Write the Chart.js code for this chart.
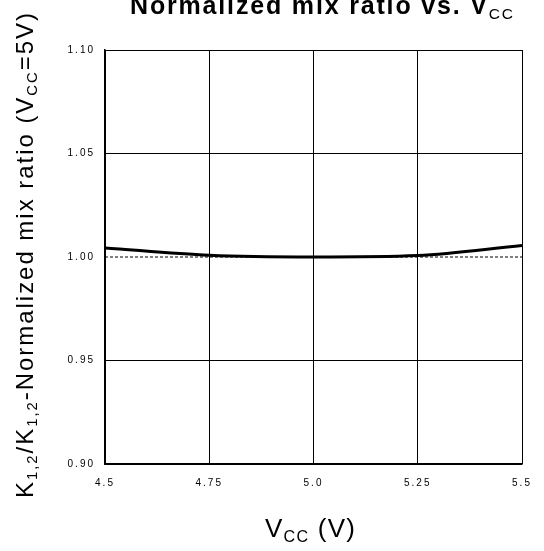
<!DOCTYPE html>
<html>
<head>
<meta charset="utf-8">
<script src="https://cdn.jsdelivr.net/npm/chart.js@4/dist/chart.umd.min.js"></script>
<style>
  html, body { margin: 0; padding: 0; background: #fff; }
  #wrap { width: 544px; height: 551px; }
</style>
</head>
<body>
<div id="wrap"><canvas id="mixChart" width="544" height="551"></canvas></div>
<script>
// supply voltage (V) and normalized mix ratio
var vcc = [4.5, 4.75, 5.0, 5.25, 5.5];
var mixRatio = [1.0044, 1.0008, 1.0, 1.0007, 1.0055];
var refLevel = [1.0, 1.0];
var refX = [4.5, 5.5];
var xTicks = ['4.5', '4.75', '5.0', '5.25', '5.5'];
var yTicks = ['0.90', '0.95', '1.00', '1.05', '1.10'];

var FONT = '"Liberation Sans", Arial, sans-serif';

function runFont(r, size) {
  var s = r[1] ? size * 0.62 : size;
  return (r[2] || '') + ' ' + s + 'px ' + FONT;
}

// draws [text, isSub, weight] pieces letter by letter, spread to fill width
function drawRuns(ctx, runs, x, y, size, width) {
  var natural = 0, count = 0;
  runs.forEach(function (r) {
    ctx.font = runFont(r, size);
    natural += ctx.measureText(r[0]).width;
    count += r[0].length;
  });
  var gap = count > 1 ? (width - natural) / (count - 1) : 0;
  runs.forEach(function (r) {
    ctx.font = runFont(r, size);
    for (var i = 0; i < r[0].length; i++) {
      var ch = r[0][i];
      ctx.fillText(ch, x, y + (r[1] ? size * 0.18 : 0));
      x += ctx.measureText(ch).width + gap;
    }
  });
}

var titlesPlugin = {
  id: 'titles',
  beforeDraw: function (chart) {
    chart.ctx.letterSpacing = '2px';
  },
  afterDraw: function (chart) {
    var ctx = chart.ctx;
    ctx.save();
    ctx.letterSpacing = '0px';
    ctx.fillStyle = '#000';
    ctx.textBaseline = 'alphabetic';
    ctx.textAlign = 'left';

    // main title
    drawRuns(ctx, [['Normalized mix ratio vs. V', false, 'bold'], ['CC', true, '']], 130, 14, 25, 383);

    // x axis title
    drawRuns(ctx, [['V', false], ['CC', true], [' (V)', false]], 265, 537, 26, 90);

    // y axis title, rotated
    ctx.translate(33, 498);
    ctx.rotate(-Math.PI / 2);
    drawRuns(ctx, [
      ['K', false], ['1,2', true], ['/K', false], ['1,2', true],
      ['-Normalized mix ratio (V', false], ['CC', true], ['=5V)', false]
    ], 0, 0, 24, 485);
    ctx.restore();
  }
};

new Chart(document.getElementById('mixChart'), {
  type: 'line',
  data: {
    datasets: [{
      data: vcc.map(function (v, i) { return { x: v, y: mixRatio[i] }; }),
      borderColor: '#000',
      borderWidth: 3,
      pointRadius: 0,
      cubicInterpolationMode: 'monotone'
    }, {
      data: refX.map(function (v, i) { return { x: v, y: refLevel[i] }; }),
      borderColor: '#000',
      borderWidth: 1,
      borderDash: [3, 2],
      pointRadius: 0
    }]
  },
  options: {
    responsive: false,
    animation: false,
    layout: { padding: { top: 50, right: 22, left: 0, bottom: 0 } },
    plugins: { legend: { display: false }, tooltip: { enabled: false } },
    scales: {
      x: {
        type: 'linear',
        min: 4.5, max: 5.5,
        afterBuildTicks: function (s) { s.ticks = vcc.map(function (v) { return { value: v }; }); },
        afterFit: function (s) { s.height = 87; },
        ticks: {
          callback: function (v, i) { return xTicks[i]; },
          color: '#000', font: { family: FONT, size: 10 }, padding: 13, maxRotation: 0
        },
        grid: { color: '#000', lineWidth: 1, drawTicks: false },
        border: { color: '#000', width: 1.5 }
      },
      y: {
        min: 0.9, max: 1.1,
        afterBuildTicks: function (s) { s.ticks = [0.9, 0.95, 1.0, 1.05, 1.1].map(function (v) { return { value: v }; }); },
        afterFit: function (s) { s.width = 105; },
        ticks: {
          callback: function (v, i) { return yTicks[i]; },
          color: '#000', font: { family: FONT, size: 10 }, padding: 10
        },
        grid: {
          color: function (c) { return c.tick && Math.abs(c.tick.value - 1.0) < 1e-6 ? 'rgba(0,0,0,0)' : '#000'; },
          lineWidth: 1, drawTicks: false
        },
        border: { color: '#000', width: 1.5 }
      }
    }
  },
  plugins: [titlesPlugin]
});
</script>
</body>
</html>
